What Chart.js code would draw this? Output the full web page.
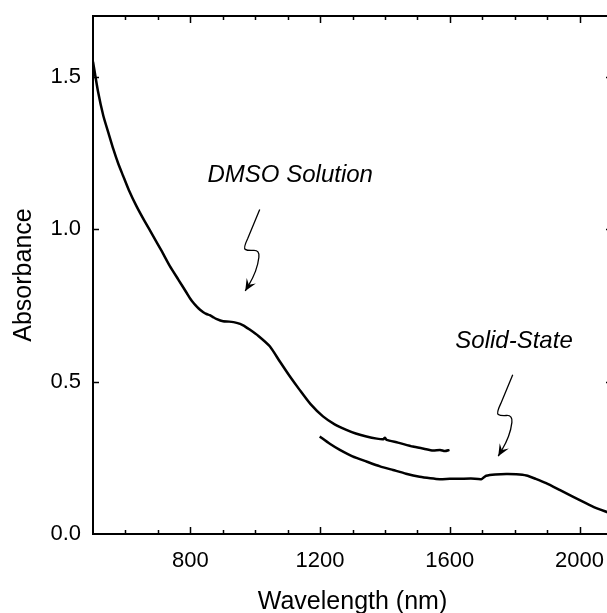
<!DOCTYPE html>
<html>
<head>
<meta charset="utf-8">
<script src="https://cdn.jsdelivr.net/npm/chart.js@4/dist/chart.umd.min.js"></script>
<style>
  html, body { margin: 0; padding: 0; background: #fff; overflow: hidden; }
  #wrap { width: 607px; height: 613px; overflow: hidden; position: relative; }
  canvas { display: block; }
</style>
</head>
<body>
<div id="wrap"><canvas id="spec" width="622" height="613"></canvas></div>
<script>
// =============================
// DATA
// =============================
const dmsoNm = [500, 515, 532, 548, 563, 578, 593, 610, 634, 660, 686, 712, 737, 763, 789,
  800, 810, 820, 830, 840, 850, 860, 870, 880, 901, 920, 943, 963, 983, 1010, 1045, 1076,
  1105, 1137, 1170, 1209, 1245, 1281, 1310, 1343, 1375, 1395, 1400, 1405, 1440, 1486, 1520,
  1548, 1570, 1585, 1599];
const dmsoAbs = [1.55, 1.455, 1.372, 1.315, 1.262, 1.215, 1.175, 1.130, 1.076, 1.025, 0.977,
  0.928, 0.879, 0.835, 0.791, 0.772, 0.758, 0.746, 0.736, 0.728, 0.722, 0.718, 0.712, 0.706,
  0.698, 0.697, 0.693, 0.685, 0.671, 0.650, 0.616, 0.566, 0.520, 0.473, 0.427, 0.386, 0.360,
  0.342, 0.330, 0.320, 0.313, 0.311, 0.316, 0.309, 0.300, 0.287, 0.280, 0.274, 0.276, 0.272,
  0.276];

const solidNm = [1199, 1230, 1261, 1300, 1343, 1385, 1425, 1465, 1507, 1540, 1569, 1600, 1630,
  1665, 1697, 1705, 1712, 1740, 1774, 1805, 1836, 1865, 1897, 1940, 1979, 2010, 2041, 2082, 2100];
const solidAbs = [0.320, 0.296, 0.276, 0.255, 0.238, 0.222, 0.210, 0.198, 0.188, 0.183, 0.180,
  0.181, 0.181, 0.182, 0.180, 0.186, 0.191, 0.195, 0.197, 0.196, 0.192, 0.181, 0.167, 0.144,
  0.123, 0.106, 0.090, 0.073, 0.066];

const xTicks = [800, 1200, 1600, 2000];
const yTicks = [0, 0.5, 1.0, 1.5];

// annotation labels: [text, x(nm), y(abs) of text centre, x(nm), y(abs) of squiggle top]
const notes = [
  ["DMSO Solution", 1108, 1.177, 1014, 1.065],
  ["Solid-State", 1798, 0.631, 1794, 0.523]
];

// =============================
// UTIL
// =============================
const FONT = "Arial, 'Liberation Sans', sans-serif";
const toPts = (xs, ys) => xs.map((x, i) => ({ x, y: ys[i] }));

// squiggle shape (pixel offsets from its top point)
const squiggle = [[0, 0], [-12, 29], [-16.5, 38.5], [-12.5, 41.2], [0, 40.5],
  [-1.7, 55], [-6.7, 68.3], [-14.5, 81.5]];

function drawSquiggle(ctx, x0, y0) {
  ctx.save();
  ctx.strokeStyle = "#000";
  ctx.fillStyle = "#000";
  ctx.lineWidth = 1.3;
  ctx.beginPath();
  const p = squiggle.map(([dx, dy]) => [x0 + dx, y0 + dy]);
  ctx.moveTo(p[0][0], p[0][1]);
  ctx.lineTo(p[1][0], p[1][1]);
  for (let i = 2; i < p.length - 1; i++) {
    const mx = (p[i][0] + p[i + 1][0]) / 2, my = (p[i][1] + p[i + 1][1]) / 2;
    ctx.quadraticCurveTo(p[i][0], p[i][1], mx, my);
  }
  const tip = p[p.length - 1];
  ctx.lineTo(tip[0], tip[1]);
  ctx.stroke();
  // arrow head
  const prev = p[p.length - 2];
  const a = Math.atan2(tip[1] - prev[1], tip[0] - prev[0]);
  const L = 13, W = 0.42;
  ctx.beginPath();
  ctx.moveTo(tip[0], tip[1]);
  ctx.lineTo(tip[0] - L * Math.cos(a - W), tip[1] - L * Math.sin(a - W));
  ctx.lineTo(tip[0] - 0.55 * L * Math.cos(a), tip[1] - 0.55 * L * Math.sin(a));
  ctx.lineTo(tip[0] - L * Math.cos(a + W), tip[1] - L * Math.sin(a + W));
  ctx.closePath();
  ctx.fill();
  ctx.restore();
}

// frame, inward ticks, notes and x title
const decor = {
  id: "decor",
  afterDraw(chart) {
    const { ctx, chartArea: a, scales } = chart;
    const xs = scales.x, ys = scales.y;
    ctx.save();
    ctx.strokeStyle = "#000";
    ctx.lineWidth = 2;
    ctx.strokeRect(a.left, a.top, a.right - a.left, a.bottom - a.top);

    ctx.lineWidth = 1.5;
    ctx.beginPath();
    for (let v = 600; v < xs.max; v += 100) {
      const px = Math.round(xs.getPixelForValue(v)) + 0.5;
      const len = xTicks.includes(v) ? 7 : 4;
      ctx.moveTo(px, a.bottom); ctx.lineTo(px, a.bottom - len);
      ctx.moveTo(px, a.top); ctx.lineTo(px, a.top + len);
    }
    yTicks.forEach((v) => {
      if (v === 0) return;
      const py = Math.round(ys.getPixelForValue(v)) + 0.5;
      ctx.moveTo(a.left, py); ctx.lineTo(a.left + 6, py);
      ctx.moveTo(a.right, py); ctx.lineTo(a.right - 6, py);
    });
    ctx.stroke();

    ctx.fillStyle = "#000";
    ctx.textAlign = "center";
    ctx.textBaseline = "middle";
    ctx.font = "italic 24px " + FONT;
    notes.forEach(([txt, tx, ty, sx, sy]) => {
      ctx.fillText(txt, xs.getPixelForValue(tx), ys.getPixelForValue(ty));
      drawSquiggle(ctx, xs.getPixelForValue(sx), ys.getPixelForValue(sy));
    });

    ctx.font = "25px " + FONT;
    ctx.textBaseline = "alphabetic";
    ctx.fillText("Wavelength (nm)", (a.left + a.right) / 2, 609);
    ctx.restore();
  }
};

// =============================
// CHART
// =============================
const lineStyle = {
  borderColor: "#000",
  borderWidth: 2.5,
  pointRadius: 0,
  tension: 0.2,
  fill: false
};

new Chart(document.getElementById("spec"), {
  type: "scatter",
  data: {
    datasets: [
      { label: "DMSO Solution", data: toPts(dmsoNm, dmsoAbs), showLine: true, ...lineStyle },
      { label: "Solid-State", data: toPts(solidNm, solidAbs), showLine: true, ...lineStyle }
    ]
  },
  options: {
    responsive: false,
    animation: false,
    layout: { padding: { left: 0, top: 16, right: 10, bottom: 0 } },
    plugins: { legend: { display: false }, tooltip: { enabled: false } },
    scales: {
      x: {
        type: "linear",
        min: 500,
        max: 2100,
        grid: { display: false, drawTicks: false },
        border: { display: false },
        afterBuildTicks: (s) => { s.ticks = xTicks.map((v) => ({ value: v })); },
        afterFit: (s) => { s.height = 79; s.paddingLeft = 0; s.paddingRight = 0; },
        ticks: {
          color: "#000", padding: 14, maxRotation: 0, font: { size: 22, family: FONT },
          callback: (v) => String(v)
        }
      },
      y: {
        min: 0,
        max: 1.7,
        grid: { display: false, drawTicks: false },
        border: { display: false },
        afterBuildTicks: (s) => { s.ticks = yTicks.map((v) => ({ value: v })); },
        afterFit: (s) => { s.width = 93; s.paddingTop = 0; s.paddingBottom = 0; },
        ticks: {
          color: "#000", padding: 12, font: { size: 22, family: FONT },
          callback: (v) => Number(v).toFixed(1)
        },
        title: {
          display: true, text: "Absorbance", color: "#000",
          padding: { top: 9, bottom: 0 }, font: { size: 25, family: FONT }
        }
      }
    }
  },
  plugins: [decor]
});
</script>
</body>
</html>
